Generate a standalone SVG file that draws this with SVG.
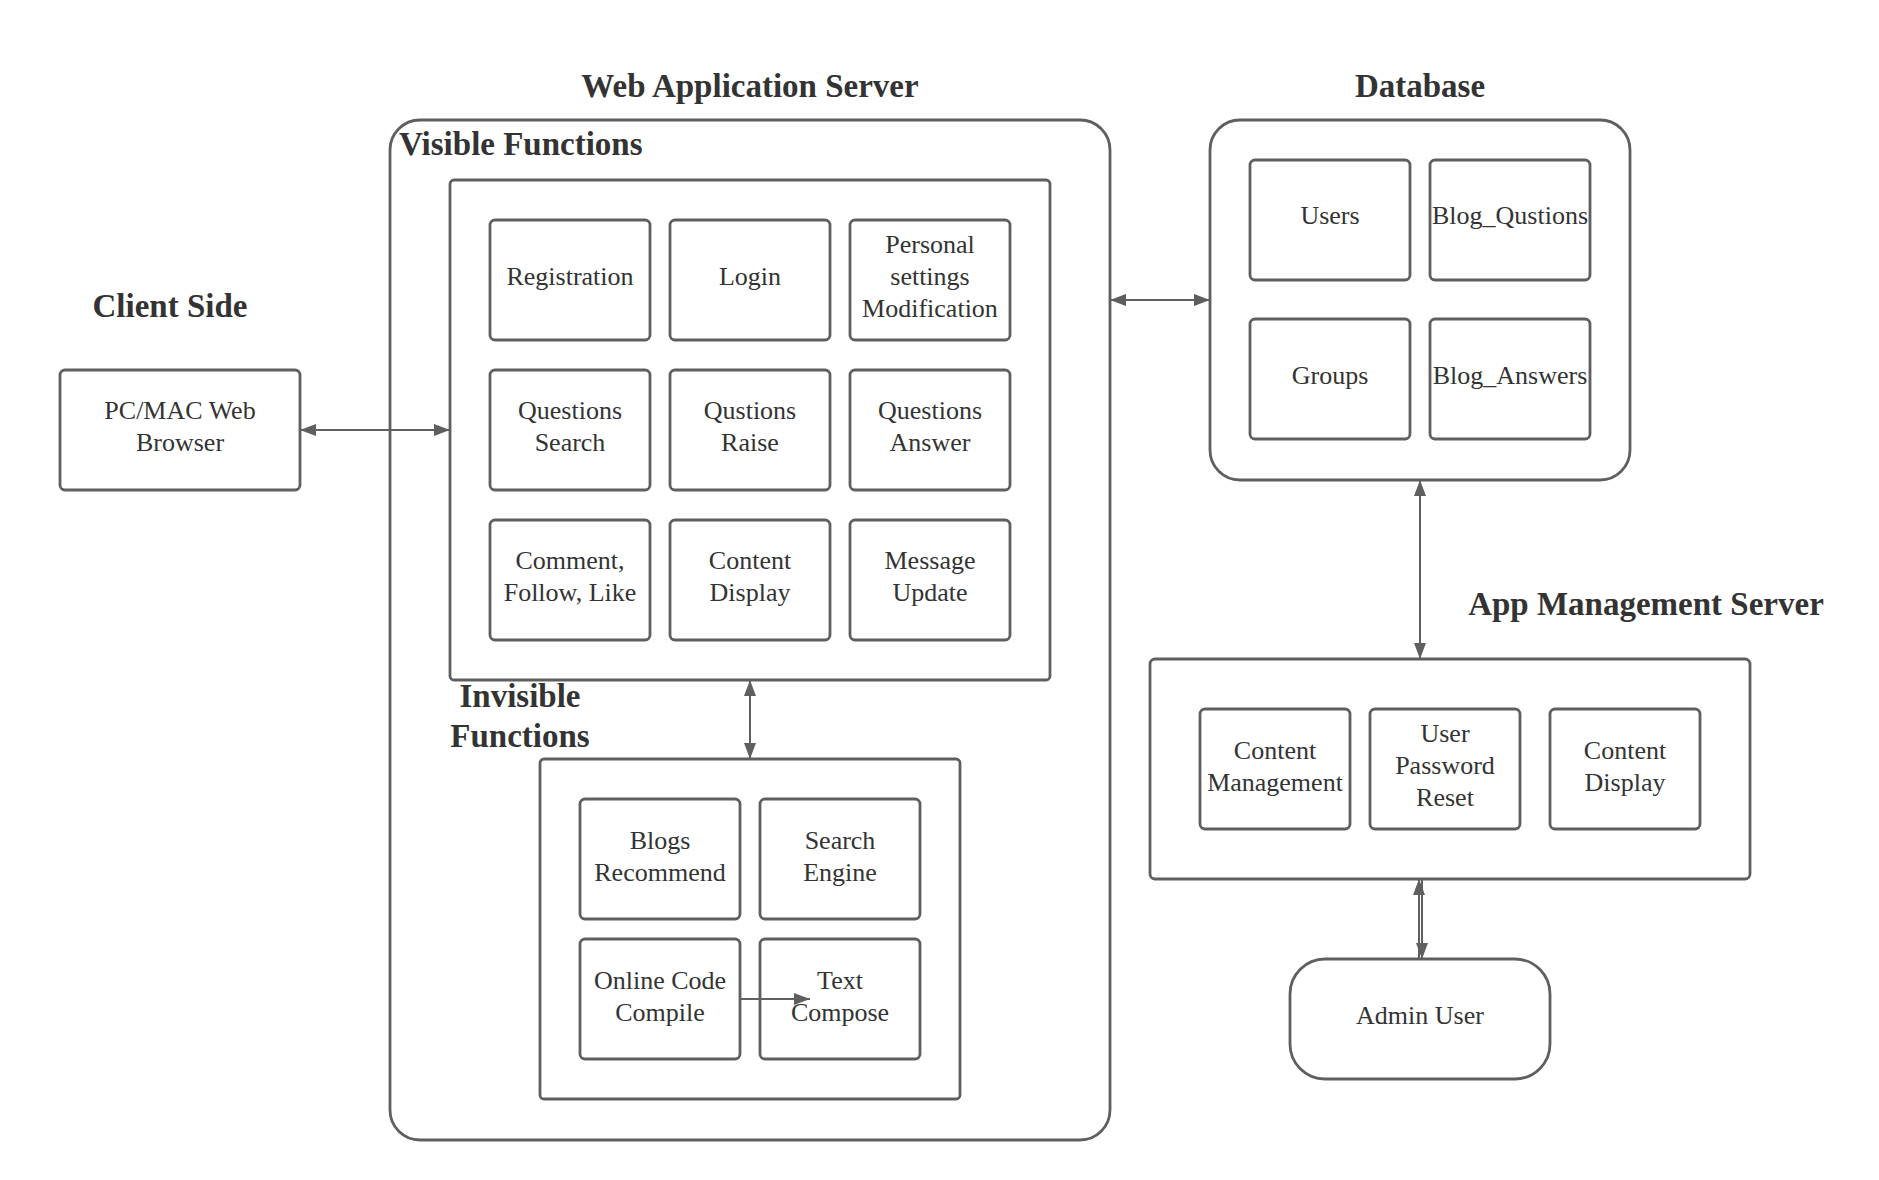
<svg xmlns="http://www.w3.org/2000/svg" width="1879" height="1180" viewBox="0 0 1879 1180">
<style>
.bg{fill:#ffffff}
.box{fill:#ffffff;stroke:#5f5f5f;stroke-width:2.8}
.grp{fill:none;stroke:#5f5f5f;stroke-width:2.8}
.t{font-family:"Liberation Serif","Times New Roman",serif;font-size:26px;fill:#333333;text-anchor:middle}
.h{font-family:"Liberation Serif","Times New Roman",serif;font-size:33px;font-weight:bold;fill:#333333;text-anchor:middle}
.hl{text-anchor:start}
.c{fill:none;stroke:#5f5f5f;stroke-width:2}
</style>
<defs>
<marker id="ah" markerUnits="userSpaceOnUse" markerWidth="18" markerHeight="14" refX="16" refY="6" orient="auto-start-reverse">
<path d="M0,0 L16,6 L0,12 Z" fill="#5f5f5f"/>
</marker>
</defs>
<rect class="bg" x="0" y="0" width="1879" height="1180"/>

<g id="titles">
<text class="h" x="750" y="97">Web Application Server</text>
<text class="h" x="1420" y="97">Database</text>
<text class="h" x="170" y="317">Client Side</text>
<text class="h" x="1646" y="615">App Management Server</text>
</g>

<g id="web-app-server">
<rect class="grp" x="390" y="120" width="720" height="1020" rx="30"/>
<text class="h hl" x="399" y="155">Visible Functions</text>
</g>

<g id="visible-functions">
<rect class="grp" x="450" y="180" width="600" height="500" rx="4"/>
</g>

<g id="registration"><rect class="box" x="490" y="220" width="160" height="120" rx="5"/><text class="t" x="570" y="285">Registration</text></g>
<g id="login"><rect class="box" x="670" y="220" width="160" height="120" rx="5"/><text class="t" x="750" y="285">Login</text></g>
<g id="personal-settings"><rect class="box" x="850" y="220" width="160" height="120" rx="5"/><text class="t" x="930" y="253">Personal</text><text class="t" x="930" y="285">settings</text><text class="t" x="930" y="317">Modification</text></g>

<g id="questions-search"><rect class="box" x="490" y="370" width="160" height="120" rx="5"/><text class="t" x="570" y="419">Questions</text><text class="t" x="570" y="451">Search</text></g>
<g id="qustions-raise"><rect class="box" x="670" y="370" width="160" height="120" rx="5"/><text class="t" x="750" y="419">Qustions</text><text class="t" x="750" y="451">Raise</text></g>
<g id="questions-answer"><rect class="box" x="850" y="370" width="160" height="120" rx="5"/><text class="t" x="930" y="419">Questions</text><text class="t" x="930" y="451">Answer</text></g>

<g id="comment-follow-like"><rect class="box" x="490" y="520" width="160" height="120" rx="5"/><text class="t" x="570" y="569">Comment,</text><text class="t" x="570" y="601">Follow, Like</text></g>
<g id="content-display-web"><rect class="box" x="670" y="520" width="160" height="120" rx="5"/><text class="t" x="750" y="569">Content</text><text class="t" x="750" y="601">Display</text></g>
<g id="message-update"><rect class="box" x="850" y="520" width="160" height="120" rx="5"/><text class="t" x="930" y="569">Message</text><text class="t" x="930" y="601">Update</text></g>

<g id="invisible-functions">
<text class="h" x="520" y="707">Invisible</text>
<text class="h" x="520" y="747">Functions</text>
<rect class="grp" x="540" y="759" width="420" height="340" rx="4"/>
</g>

<g id="blogs-recommend"><rect class="box" x="580" y="799" width="160" height="120" rx="5"/><text class="t" x="660" y="849">Blogs</text><text class="t" x="660" y="881">Recommend</text></g>
<g id="search-engine"><rect class="box" x="760" y="799" width="160" height="120" rx="5"/><text class="t" x="840" y="849">Search</text><text class="t" x="840" y="881">Engine</text></g>
<g id="online-code-compile"><rect class="box" x="580" y="939" width="160" height="120" rx="5"/><text class="t" x="660" y="989">Online Code</text><text class="t" x="660" y="1021">Compile</text></g>
<g id="text-compose"><rect class="box" x="760" y="939" width="160" height="120" rx="5"/><text class="t" x="840" y="989">Text</text><text class="t" x="840" y="1021">Compose</text></g>

<g id="browser"><rect class="box" x="60" y="370" width="240" height="120" rx="5"/><text class="t" x="180" y="419">PC/MAC Web</text><text class="t" x="180" y="451">Browser</text></g>

<g id="database">
<rect class="grp" x="1210" y="120" width="420" height="360" rx="30"/>
</g>
<g id="users"><rect class="box" x="1250" y="160" width="160" height="120" rx="5"/><text class="t" x="1330" y="224">Users</text></g>
<g id="blog-qustions"><rect class="box" x="1430" y="160" width="160" height="120" rx="5"/><text class="t" x="1510" y="224">Blog_Qustions</text></g>
<g id="groups"><rect class="box" x="1250" y="319" width="160" height="120" rx="5"/><text class="t" x="1330" y="384">Groups</text></g>
<g id="blog-answers"><rect class="box" x="1430" y="319" width="160" height="120" rx="5"/><text class="t" x="1510" y="384">Blog_Answers</text></g>

<g id="app-management-server">
<rect class="grp" x="1150" y="659" width="600" height="220" rx="5"/>
</g>
<g id="content-management"><rect class="box" x="1200" y="709" width="150" height="120" rx="5"/><text class="t" x="1275" y="759">Content</text><text class="t" x="1275" y="791">Management</text></g>
<g id="user-password-reset"><rect class="box" x="1370" y="709" width="150" height="120" rx="5"/><text class="t" x="1445" y="742">User</text><text class="t" x="1445" y="774">Password</text><text class="t" x="1445" y="806">Reset</text></g>
<g id="content-display-app"><rect class="box" x="1550" y="709" width="150" height="120" rx="5"/><text class="t" x="1625" y="759">Content</text><text class="t" x="1625" y="791">Display</text></g>

<g id="admin-user"><rect class="box" x="1290" y="959" width="260" height="120" rx="35"/><text class="t" x="1420" y="1024">Admin User</text></g>

<g id="connectors">
<path class="c" d="M300,430 L450,430" marker-start="url(#ah)" marker-end="url(#ah)"/>
<path class="c" d="M1110,300 L1210,300" marker-start="url(#ah)" marker-end="url(#ah)"/>
<path class="c" d="M750,680 L750,759" marker-start="url(#ah)" marker-end="url(#ah)"/>
<path class="c" d="M740,999 L810,999" marker-end="url(#ah)"/>
<path class="c" d="M1420,480 L1420,659" marker-start="url(#ah)" marker-end="url(#ah)"/>
<path class="c" d="M1419,959 L1419,879" marker-end="url(#ah)"/>
<path class="c" d="M1422,879 L1422,959" marker-end="url(#ah)"/>
</g>
</svg>
